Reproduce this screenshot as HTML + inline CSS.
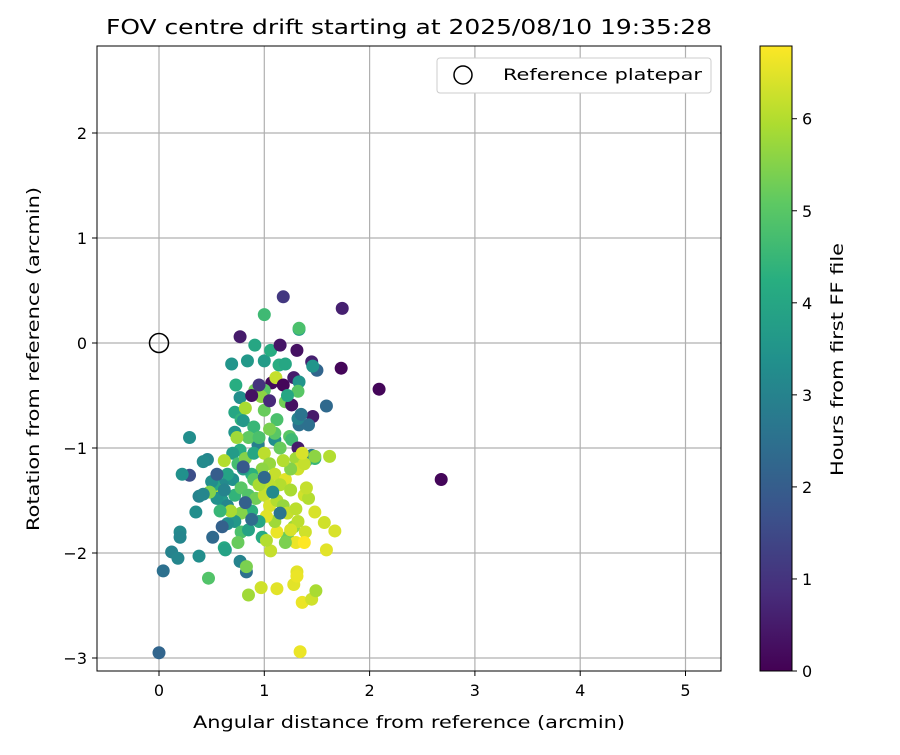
<!DOCTYPE html>
<html><head><meta charset="utf-8"><style>
body{margin:0;background:#fff}
svg text{font-family:"DejaVu Sans","Liberation Sans",sans-serif;fill:#000}
</style></head><body>
<svg id="chart" width="900" height="750" xmlns="http://www.w3.org/2000/svg">
<defs>
<linearGradient id="vir" x1="0" y1="1" x2="0" y2="0">
<stop offset="0" stop-color="#440154"/><stop offset="0.125" stop-color="#472d7b"/><stop offset="0.25" stop-color="#3b528b"/><stop offset="0.375" stop-color="#2c728e"/><stop offset="0.5" stop-color="#21918c"/><stop offset="0.625" stop-color="#28ae80"/><stop offset="0.75" stop-color="#5ec962"/><stop offset="0.875" stop-color="#addc30"/><stop offset="1" stop-color="#fde725"/>
</linearGradient>
<clipPath id="clip"><rect x="97" y="46" width="624" height="625"/></clipPath>
</defs>
<text x="106" y="34" font-size="20" textLength="606" lengthAdjust="spacingAndGlyphs">FOV centre drift starting at 2025/08/10 19:35:28</text>
<g id="grid"></g>
<g id="points" clip-path="url(#clip)"></g>
<rect x="97" y="46" width="624" height="625" fill="none" stroke="#000" stroke-width="1"/>
<g id="ticks"></g>
<text x="193" y="728" font-size="17" textLength="432" lengthAdjust="spacingAndGlyphs">Angular distance from reference (arcmin)</text>
<text transform="translate(39,531) rotate(-90)" font-size="17" textLength="344" lengthAdjust="spacingAndGlyphs">Rotation from reference (arcmin)</text>
<g>
<rect x="437" y="58" width="274" height="35" rx="3" fill="#fff" stroke="#ccc"/>
<circle cx="463" cy="75" r="9" fill="none" stroke="#000" stroke-width="1.5"/>
<text x="503" y="80" font-size="16" textLength="199" lengthAdjust="spacingAndGlyphs">Reference platepar</text>
</g>
<rect x="760" y="46" width="32" height="625" fill="url(#vir)" stroke="#000" stroke-width="1"/>
<g id="cbticks"></g>
<text transform="translate(843,476) rotate(-90)" font-size="17" textLength="233" lengthAdjust="spacingAndGlyphs">Hours from first FF file</text>
</svg>
<script>
const xs=[0.77,1.00,1.18,1.33,1.33,1.74,1.73,2.09,2.68,0.69,0.84,1.00,1.06,0.91,1.14,1.20,1.31,1.15,1.28,1.45,1.50,1.46,1.20,1.26,1.07,1.11,1.33,1.32,1.59,1.46,1.42,1.33,1.32,1.35,0.73,0.77,0.72,0.78,0.82,0.80,0.72,0.94,1.10,1.00,0.91,0.97,1.00,1.12,1.10,1.24,1.26,0.88,0.95,1.05,1.18,1.22,1.05,0.90,0.85,0.95,1.15,1.32,1.30,1.40,1.45,1.48,0.74,0.77,0.70,0.62,0.75,0.82,0.90,1.00,1.05,1.10,1.20,1.15,1.25,1.32,1.38,1.36,1.05,0.98,0.88,0.80,0.70,0.65,0.60,0.55,0.52,0.60,0.65,0.72,0.78,0.85,0.92,1.00,1.05,1.12,1.18,1.22,1.30,1.38,1.42,1.40,1.28,1.22,1.30,1.20,1.12,1.10,1.02,0.95,0.88,0.78,0.72,0.68,0.65,0.78,0.85,0.98,1.06,1.02,0.75,0.58,0.55,0.50,0.48,0.62,0.90,0.95,1.08,1.15,1.00,0.82,0.88,1.25,1.18,0.29,0.22,0.29,0.35,0.38,0.42,0.46,0.42,0.20,0.20,0.12,0.18,0.38,0.51,0.60,0.63,0.77,0.83,0.83,0.80,0.55,0.62,0.00,0.04,0.47,0.85,0.97,1.12,1.28,1.31,1.31,1.36,1.45,1.49,1.34,1.57,1.67,1.59,1.48,1.62,1.48,1.39,1.32,1.38,1.25];
const ys=[0.06,0.27,0.44,0.13,0.14,0.33,-0.24,-0.44,-1.30,-0.20,-0.17,-0.17,-0.07,-0.02,-0.21,-0.20,-0.07,-0.02,-0.33,-0.18,-0.26,-0.22,-0.56,-0.59,-0.38,-0.33,-0.37,-0.46,-0.60,-0.70,-0.78,-0.78,-0.72,-0.68,-0.40,-0.52,-0.66,-0.73,-0.62,-0.74,-0.85,-0.97,-0.92,-0.45,-0.45,-0.51,-0.64,-0.73,-0.86,-0.89,-0.92,-0.50,-0.40,-0.55,-0.40,-0.50,-0.82,-0.80,-0.90,-0.90,-1.00,-1.00,-1.10,-1.12,-1.07,-1.10,-0.90,-1.02,-1.05,-1.12,-1.15,-1.10,-1.05,-1.05,-1.15,-1.25,-1.30,-1.35,-1.40,-1.20,-1.15,-1.05,-1.35,-1.20,-1.25,-1.20,-1.30,-1.25,-1.35,-1.40,-1.35,-1.50,-1.55,-1.45,-1.38,-1.45,-1.48,-1.45,-1.55,-1.50,-1.55,-1.62,-1.58,-1.45,-1.48,-1.38,-1.75,-1.85,-1.90,-1.90,-1.80,-1.70,-1.65,-1.70,-1.60,-1.62,-1.70,-1.60,-1.72,-1.80,-1.78,-1.85,-1.98,-1.88,-1.90,-1.60,-1.48,-1.32,-1.42,-1.95,-1.30,-1.35,-1.42,-1.62,-1.28,-1.52,-1.68,-1.20,-1.12,-1.26,-1.25,-0.90,-1.61,-1.46,-1.44,-1.11,-1.13,-1.80,-1.85,-1.99,-2.05,-2.03,-1.85,-1.75,-1.97,-2.08,-2.18,-2.13,-1.18,-1.25,-1.40,-2.95,-2.17,-2.24,-2.40,-2.33,-2.34,-2.30,-2.18,-2.22,-2.47,-2.44,-2.36,-2.94,-1.71,-1.79,-1.97,-1.61,-1.08,-1.08,-1.80,-1.70,-1.90,-1.78];
const hours=[0.5,4.6,1.1,3.7,4.8,0.6,0.1,0.1,0.1,3.5,3.6,3.7,4.2,4.0,4.2,4.0,0.3,0.4,0.5,0.6,2.2,3.5,5.3,0.3,0.2,6.2,3.5,5.0,2.3,0.5,2.5,2.5,3.0,2.6,4.2,3.3,4.0,4.4,5.9,3.6,3.5,2.9,3.3,5.0,5.3,5.6,5.2,4.8,5.0,5.0,4.6,0.3,1.0,0.8,0.1,4.0,5.4,4.5,5.1,4.8,5.2,0.5,5.8,3.8,2.8,4.5,5.8,4.2,3.7,6.0,4.7,5.5,4.0,6.1,5.7,6.2,6.5,6.0,5.9,6.3,6.2,6.4,6.1,5.6,4.3,3.8,3.4,3.9,3.2,6.0,4.0,3.6,3.1,4.4,5.0,4.9,5.3,6.2,6.4,6.0,5.7,6.2,6.1,6.3,6.0,6.2,5.7,5.2,6.6,5.4,6.6,5.8,6.5,4.0,4.3,5.5,3.6,5.9,3.3,4.8,3.9,4.1,6.2,6.0,5.2,4.5,3.4,3.3,5.5,4.1,5.0,5.9,3.2,2.6,2.3,2.1,2.4,5.5,6.0,1.6,3.4,3.3,3.3,3.0,3.1,3.1,3.2,3.2,3.1,3.0,3.1,3.3,2.3,2.1,3.9,3.0,2.5,5.4,1.9,2.0,3.0,2.2,2.5,4.9,5.8,6.3,6.5,6.5,6.5,6.6,6.6,6.3,5.9,6.6,6.3,6.4,6.5,6.4,6.0,5.6,6.3,6.1,6.8,6.4];
const xTicks=[0,1,2,3,4,5];
const yTicks=[-3,-2,-1,0,1,2];
const cTicks=[0,1,2,3,4,5,6];
const NS="http://www.w3.org/2000/svg";
const X=v=>159+v*105.3, Y=v=>343-v*105, C=v=>671-v*(625/6.79);
const stops=[[68,1,84],[71,45,123],[59,82,139],[44,114,142],[33,145,140],[40,174,128],[94,201,98],[173,220,48],[253,231,37]];
function vir(h){let t=Math.max(0,Math.min(1,h/6.79))*8;let i=Math.min(7,Math.floor(t)),f=t-i;const a=stops[i],b=stops[i+1];return`rgb(${a.map((v,k)=>Math.round(v+(b[k]-v)*f)).join(',')})`;}
function mk(tag,attrs,parent){const e=document.createElementNS(NS,tag);for(const k in attrs)e.setAttribute(k,attrs[k]);parent.appendChild(e);return e;}
const grid=document.getElementById('grid'),ticks=document.getElementById('ticks'),pts=document.getElementById('points'),cb=document.getElementById('cbticks');
xTicks.forEach(v=>{const l=mk('line',{x1:X(v),x2:X(v),y1:46,y2:671,stroke:'#b0b0b0','stroke-width':1.2},grid);
mk('line',{x1:X(v),x2:X(v),y1:671,y2:676,stroke:'#000'},ticks);const t=mk('text',{x:X(v),y:696,'font-size':16,'text-anchor':'middle'},ticks);t.textContent=v;});
yTicks.forEach(v=>{const l=mk('line',{y1:Y(v),y2:Y(v),x1:97,x2:721,stroke:'#b0b0b0','stroke-width':1.2},grid);
mk('line',{y1:Y(v),y2:Y(v),x1:92,x2:97,stroke:'#000'},ticks);const t=mk('text',{x:87,y:Y(v)+6,'font-size':16,'text-anchor':'end'},ticks);t.textContent=(v<0?'\u2212'+(-v):v);});
cTicks.forEach(v=>{mk('line',{x1:792,x2:797,y1:C(v),y2:C(v),stroke:'#000'},cb);const t=mk('text',{x:802,y:C(v)+6,'font-size':16},cb);t.textContent=v;});
xs.forEach((x,i)=>{const c=mk('circle',{cx:X(x),cy:Y(ys[i]),r:6.5,fill:vir(hours[i])},pts);});
const ref=mk('circle',{cx:X(0),cy:Y(0),r:9.5,fill:'none',stroke:'#000','stroke-width':1.5},pts);


</script>
</body></html>
